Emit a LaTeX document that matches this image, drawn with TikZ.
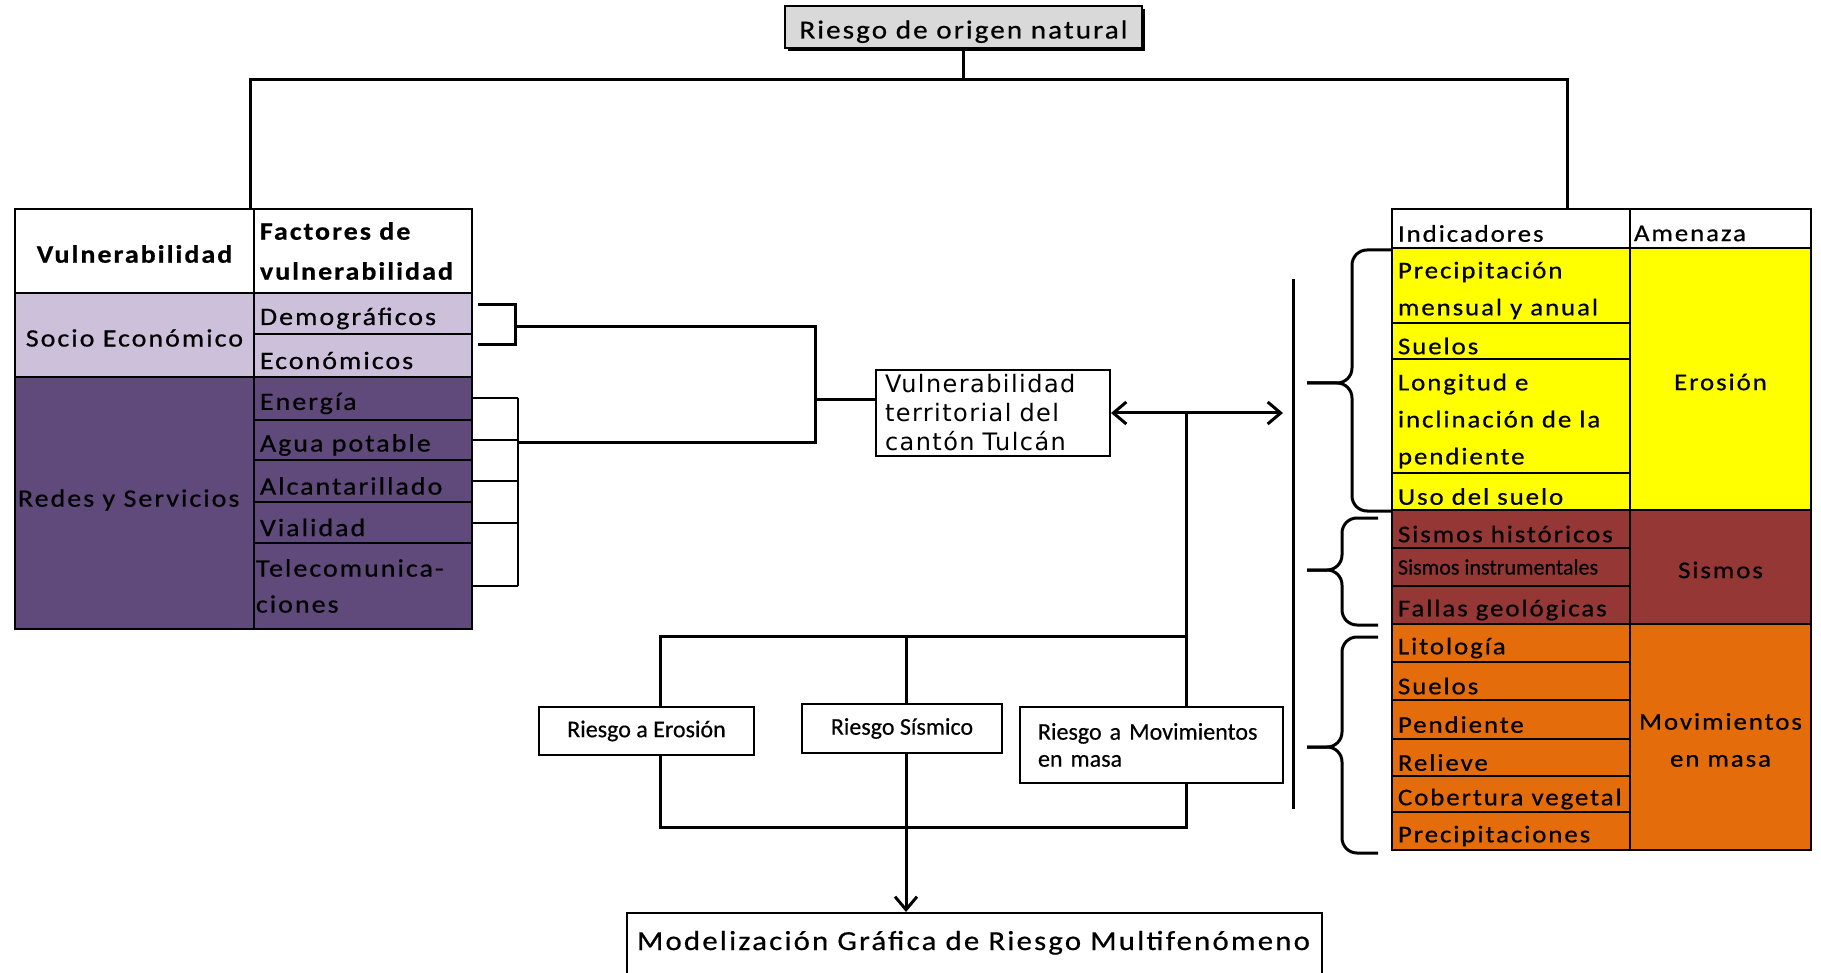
\documentclass[tikz,border=0pt]{standalone}
\usepackage{fontspec}
\usetikzlibrary{arrows.meta,shadows}
\newfontfamily\xlfont[FakeStretch=1.12,LetterSpace=8,FakeBold=0.6]{Carlito}
\newfontfamily\cbfont[FakeBold=0.4]{Carlito}
\newfontfamily\vtfont[LetterSpace=6]{DejaVu Sans}
\definecolor{Clightpurple}{HTML}{CCC0DA}
\definecolor{Cdarkpurple}{HTML}{604A7B}
\definecolor{Cerosion}{HTML}{FFFF00}
\definecolor{Csismo}{HTML}{953735}
\definecolor{Cmasa}{HTML}{E46C0A}
\definecolor{Ctitlegrey}{HTML}{D9D9D9}

\tikzset{
	cell/.style={draw=black,line width=2.5pt,inner sep=0pt},
	celltxt/.style={anchor=west,inner xsep=7pt,inner ysep=0pt,align=left,yshift=-5pt},
	lhead/.style={font=\xlfont\bfseries\fontsize{25}{40}\selectfont},
	ltxt/.style={font=\xlfont\fontsize{25}{36}\selectfont},
	rtxt/.style={font=\xlfont\fontsize{24}{37}\selectfont},
	conn/.style={draw=black,line width=3pt},
	thinconn/.style={draw=black,line width=2pt},
	brace/.style={draw=black,line width=3pt,rounded corners=15pt},
	rbox/.style={draw=black,line width=2pt,fill=white,font=\cbfont\fontsize{24}{27}\selectfont},
	>={Straight Barb[length=13pt,width=22pt]}
}

% cell with text at the left / cell with centred text
\newcommand{\lcell}[8][]{%
	\pgfmathsetmacro{\cellw}{#5-#3}\pgfmathsetmacro{\cellh}{#6-#4}%
	\node[cell,fill=#7,minimum width=\cellw pt,minimum height=\cellh pt] (#2) at ({(#3+#5)/2},{(#4+#6)/2}) {};
	\node[celltxt,#1] (#2t) at (#2.west) {#8};}
\newcommand{\ccell}[8][]{%
	\pgfmathsetmacro{\cellw}{#5-#3}\pgfmathsetmacro{\cellh}{#6-#4}%
	\node[cell,fill=#7,minimum width=\cellw pt,minimum height=\cellh pt] (#2) at ({(#3+#5)/2},{(#4+#6)/2}) {};
	\node[align=center,inner sep=0pt,yshift=-3pt,#1] (#2t) at (#2.center) {#8};}

\begin{document}
\begin{tikzpicture}[x=1pt,y=-1pt]
		\useasboundingbox (0,0) rectangle (1821,973);

		\node[draw=black,line width=2pt,fill=Ctitlegrey,minimum width=357pt,minimum height=42pt,inner sep=0pt,
			text height=23pt,text depth=0pt,
			drop shadow={shadow xshift=3pt,shadow yshift=-3pt,fill=black,opacity=1},
			font=\xlfont\fontsize{26}{30}\selectfont] (title) at (963.5,27) {Riesgo de origen natural};

		% vulnerabilidad
		\ccell[lhead]{vul}{15}{209}{254}{293}{white}{Vulnerabilidad}
		\lcell[lhead,yshift=5pt]{fac}{254}{209}{472}{293}{white}{Factores de\\vulnerabilidad}
		\ccell[ltxt]{soc}{15}{293}{254}{377}{Clightpurple}{Socio Económico}
		\lcell[ltxt]{dem}{254}{293}{472}{334}{Clightpurple}{Demográficos}
		\lcell[ltxt]{eco}{254}{334}{472}{377}{Clightpurple}{Económicos}
		\lcell[ltxt,inner xsep=4pt,yshift=8pt]{red}{15}{377}{254}{629}{Cdarkpurple}{Redes y Servicios}
		\lcell[ltxt]{ene}{254}{377}{472}{420}{Cdarkpurple}{Energía}
		\lcell[ltxt]{agu}{254}{420}{472}{460}{Cdarkpurple}{Agua potable}
		\lcell[ltxt]{alc}{254}{460}{472}{502}{Cdarkpurple}{Alcantarillado}
		\lcell[ltxt]{via}{254}{502}{472}{543}{Cdarkpurple}{Vialidad}
		\lcell[ltxt,inner xsep=3pt,yshift=5pt]{tel}{254}{543}{472}{629}{Cdarkpurple}{Telecomunica-\\ciones}

		% amenaza
		\lcell[rtxt]{ind}{1392}{209}{1630}{248}{white}{Indicadores}
		\lcell[rtxt,inner xsep=5pt]{ame}{1630}{209}{1811}{248}{white}{Amenaza}
		\lcell[rtxt]{i1}{1392}{248}{1630}{323}{Cerosion}{Precipitación\\mensual y anual}
		\lcell[rtxt]{i2}{1392}{323}{1630}{359}{Cerosion}{Suelos}
		\lcell[rtxt]{i3}{1392}{359}{1630}{473}{Cerosion}{Longitud e\\inclinación de la\\pendiente}
		\lcell[rtxt]{i4}{1392}{473}{1630}{510}{Cerosion}{Uso del suelo}
		\ccell[rtxt]{aero}{1630}{248}{1811}{510}{Cerosion}{Erosión}
		\lcell[rtxt]{i5}{1392}{510}{1630}{548}{Csismo}{Sismos históricos}
		\lcell[font=\cbfont\fontsize{22}{26}\selectfont,yshift=5pt]{i6}{1392}{548}{1630}{586}{Csismo}{Sismos instrumentales}
		\lcell[rtxt]{i7}{1392}{586}{1630}{624}{Csismo}{Fallas geológicas}
		\ccell[rtxt]{asis}{1630}{510}{1811}{624}{Csismo}{Sismos}
		\lcell[rtxt]{i8}{1392}{624}{1630}{662}{Cmasa}{Litología}
		\lcell[rtxt]{i9}{1392}{662}{1630}{700}{Cmasa}{Suelos}
		\lcell[rtxt]{i10}{1392}{700}{1630}{739}{Cmasa}{Pendiente}
		\lcell[rtxt]{i11}{1392}{739}{1630}{776}{Cmasa}{Relieve}
		\lcell[rtxt]{i12}{1392}{776}{1630}{812}{Cmasa}{Cobertura vegetal}
		\lcell[rtxt]{i13}{1392}{812}{1630}{850}{Cmasa}{Precipitaciones}
		\ccell[rtxt]{amov}{1630}{624}{1811}{850}{Cmasa}{Movimientos\\en masa}

		\coordinate (tl) at (250,80);
		\coordinate (tr) at (1567,80);
		\draw[conn] (title.south) -- (title.south |- tl);
		\draw[conn] (tl |- vul.north) -- (tl) -- (tr) -- (tr |- ind.north);

		\node[draw=black,line width=2pt,fill=white,minimum width=234pt,minimum height=86pt,text width=216pt,inner xsep=9pt,
			align=left,font=\vtfont\fontsize{24}{29}\selectfont] (vt) at (993,413) {Vulnerabilidad\\territorial del\\cantón Tulcán};

		\coordinate (sb) at (515,327);
		\coordinate (rb) at (518,443);
		\coordinate (jv) at (815,400);
		\draw[conn] ([xshift=5pt,yshift=9pt]dem.east) -| (sb) |- ([xshift=5pt,yshift=11pt]eco.east);
		\foreach \c in {ene,agu,alc,via,tel}
			\draw[thinconn] (\c.east) -- (\c.east -| rb);
		\draw[thinconn] (ene.east -| rb) -- (tel.east -| rb);
		\draw[conn] (sb) -- (sb -| jv) -- (rb -| jv) -- (rb);
		\draw[conn] (jv) -- (jv -| vt.west);

		\coordinate (lvt) at (1293,279);
		\coordinate (lvb) at (1293,809);
		\draw[conn] (lvt) -- (lvb);
		\draw[conn,<->] (vt.east) -- ([xshift=-10pt]vt.east -| lvt);

		\foreach \yt/\yb/\ym/\xs/\xe in {250/511/383/1352/1392,518/625/570/1342/1378,637/853/747/1342/1378}{
			\draw[brace] (1307,\ym) -- (\xs,\ym) -- (\xs,\yt) -- (\xe,\yt);
			\draw[brace] (1307,\ym) -- (\xs,\ym) -- (\xs,\yb) -- (\xe,\yb);
		}

		% riesgos
		\node[rbox,minimum width=215pt,minimum height=48pt] (rero) at (646.5,731) {Riesgo a Erosión};
		\node[rbox,minimum width=200pt,minimum height=49pt] (rsis) at (902,728.5) {Riesgo Sísmico};
		\node[rbox,minimum width=263pt,minimum height=76pt,text width=227pt,inner xsep=18pt,align=left] (rmov) at (1151.5,745) {Riesgo a Movimientos\\en masa};
		\node[draw=black,line width=2pt,minimum width=695pt,text width=675pt,inner xsep=10pt,align=left,
			text height=20pt,text depth=18pt,inner ysep=17pt,font=\xlfont\fontsize{27.5}{31}\selectfont] (mod) at (974.5,949) {Modelización Gráfica de Riesgo Multifenómeno};

		\coordinate (rj) at (1186,636);
		\coordinate (ej) at (660,636);
		\coordinate (sj) at (906,636);
		\coordinate (bj) at (906,827);
		\draw[conn] (vt.east -| rj) -- (rj) -- (ej) -- (ej |- rero.north);
		\draw[conn] (sj) -- (sj |- rsis.north);
		\draw[conn] (rj) -- (rj |- rmov.north);
		\draw[conn] (ej |- rero.south) -- (ej |- bj) -- (rj |- bj) -- (rj |- rmov.south);
		\draw[conn] (sj |- rsis.south) -- (bj);
		\draw[conn,->] (bj) -- (bj |- mod.north);
	\end{tikzpicture}
\end{document}
